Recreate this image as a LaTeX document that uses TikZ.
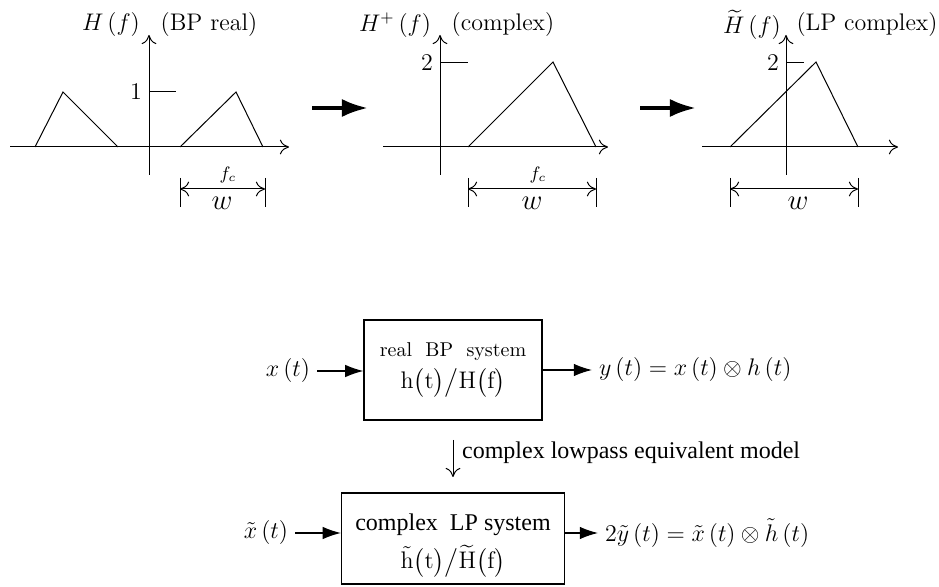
\documentclass[tikz,border=0pt]{standalone}
\usepackage{amsmath,amssymb}
\usepackage{fontspec}
\newfontfamily\timesfont{Liberation Serif}
\usepackage{tikz}
\usetikzlibrary{arrows.meta,positioning,calc}

\begin{document}
\begin{tikzpicture}[
    x=0.5pt, y=-0.5pt,
    axis/.style={-{To[length=1.6mm,width=2.6mm]}, line width=0.5pt},
    curve/.style={line width=0.5pt},
    dimarrow/.style={{To[length=1.6mm,width=2.6mm]}-{To[length=1.6mm,width=2.6mm]}, line width=0.5pt},
    bigarrow/.style={-{Latex[length=4.6mm,width=3.2mm]}, line width=2pt},
    block/.style={draw, line width=0.6pt, align=center, inner sep=0pt},
    sig/.style={-{Latex[length=3.2mm,width=2.2mm]}, line width=0.6pt},
    lbl/.style={font=\fontsize{12}{14}\selectfont},
    sigl/.style={font=\fontsize{11.5}{14}\selectfont},
    wlbl/.style={font=\fontsize{14.5}{16}\selectfont}
]
\useasboundingbox (0,0) rectangle (939,587);

% H(f), band pass
\draw[axis] (10,147) -- (289,147);
\draw[axis] (149,175) -- (149,35);
\draw[curve] (149,92) -- (176,92);
\node[lbl, left=0pt] (one) at (149,92) {1};
\draw[curve] (35,147) -- (63,92) -- (118,147);
\draw[curve] (180,147) -- (236,92) -- (263,147);
\node (fc1) at (228,175) {\small $f_c$};
\draw[curve] (180,178) -- (180,207);
\draw[curve] (265,178) -- (265,207);
\draw[dimarrow] (180,189) -- (265,189);
\node[wlbl] (w1) at (222,203) {$w$};
\node[lbl] (h1) at (111,25) {$H\,(f)$};
\node[lbl] (t1) at (209,25) {(BP real)};

\draw[bigarrow] (312,108) -- (368,108);

% H+(f)
\draw[axis] (383,147) -- (608,147);
\draw[axis] (440,175) -- (440,35);
\draw[curve] (440,63) -- (468,63);
\node[lbl, left=0pt] (two2) at (440,63) {2};
\draw[curve] (468,147) -- (553,62) -- (596,147);
\node (fc2) at (538,175) {\small $f_c$};
\draw[curve] (468,178) -- (468,207);
\draw[curve] (596,178) -- (596,207);
\draw[dimarrow] (468,189) -- (596,189);
\node[wlbl] (w2) at (532,203) {$w$};
\node[lbl] (h2) at (395,25) {$H^{+}\,(f)$};
\node[lbl] (t2) at (503,25) {(complex)};

\draw[bigarrow] (640,108) -- (696,108);

% lowpass equivalent
\draw[axis] (702,147) -- (898,147);
\draw[axis] (786,175) -- (786,35);
\draw[curve] (786,63) -- (804,63);
\node[lbl, left=0pt] (two3) at (786,63) {2};
\draw[curve] (730,147) -- (816,62) -- (858,147);
\draw[curve] (730,178) -- (730,207);
\draw[curve] (858,178) -- (858,207);
\draw[dimarrow] (730,189) -- (858,189);
\node[wlbl] (w3) at (798,203) {$w$};
\node[lbl] (h3) at (752,25) {$\widetilde{H}\,(f)$};
\node[lbl] (t3) at (867,25) {(LP complex)};

% block diagrams
\node[block, minimum width=89pt, minimum height=50pt] (bp) at (453,370)
    {real\ \ BP\ \ system\\[3pt] {\fontsize{12}{14}\selectfont$\mathrm{h}\bigl(\mathrm{t}\bigr)\big/\mathrm{H}\bigl(\mathrm{f}\bigr)$}};
\node[sigl] (xin) at (288,371) {$x\,(t)$};
\node[sigl, anchor=west] (yout) at (592,370) {$y\,(t)=x\,(t)\otimes h\,(t)$};
\draw[sig] (xin) -- (xin -| bp.west);
\draw[sig] (bp.east |- yout) -- (yout);

\coordinate (d1) at (453,440);
\coordinate (d2) at (453,477);
\draw[axis] (d1) -- (d2) node[pos=0.35, right=1pt] {\timesfont\fontsize{12}{14}\selectfont complex lowpass equivalent model};

\node[block, minimum width=111.5pt, minimum height=45.5pt, font=\timesfont\fontsize{12}{14}\selectfont] (lp) at (453,538.5)
    {\rule{0pt}{15pt}complex\ \ LP system\\[4pt] $\tilde{\mathrm{h}}\bigl(\mathrm{t}\bigr)\big/\widetilde{\mathrm{H}}\bigl(\mathrm{f}\bigr)$};
\node[sigl] (xtin) at (266,533) {$\tilde{x}\,(t)$};
\node[sigl, anchor=west] (ytout) at (598,533) {$2\tilde{y}\,(t)=\tilde{x}\,(t)\otimes\tilde{h}\,(t)$};
\draw[sig] (xtin) -- (xtin -| lp.west);
\draw[sig] (lp.east |- ytout) -- (ytout);
\end{tikzpicture}
\end{document}
